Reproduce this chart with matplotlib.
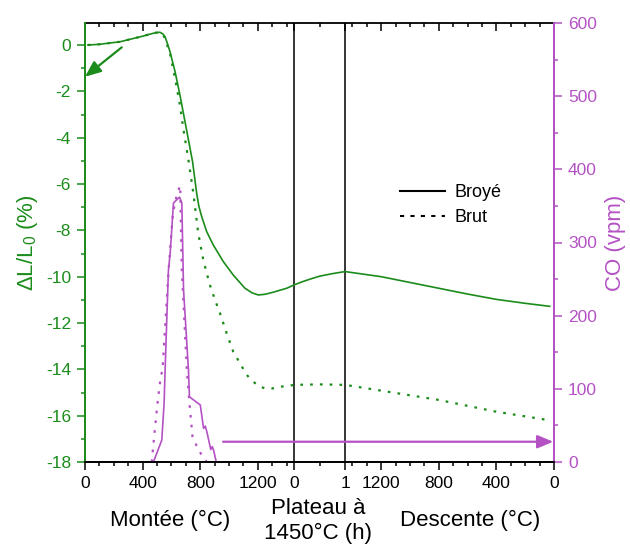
import numpy as np
import matplotlib
matplotlib.use("Agg")
import matplotlib.pyplot as plt
from matplotlib.lines import Line2D

plt.rcParams['font.family'] = ['Liberation Sans', 'DejaVu Sans']
plt.rcParams['mathtext.fontset'] = 'custom'
plt.rcParams['mathtext.rm'] = 'Liberation Sans'
plt.rcParams['mathtext.default'] = 'regular'
plt.rcParams['axes.unicode_minus'] = False

GREEN = '#1b8c1b'
PURPLE = '#b452c4'

# ---------------- data ----------------
# Broyé (solid) dilatometry, %
broye_up_T = [20, 100, 243, 400, 451, 490, 520, 540, 555, 570, 590, 625, 659, 694, 729, 747,
              775, 790, 810, 845, 890, 960, 1029, 1110, 1160, 1203, 1250, 1307, 1400, 1450]
broye_up_dl = [0.0, 0.03, 0.14, 0.38, 0.47, 0.53, 0.55, 0.48, 0.36, 0.1, -0.29, -1.15, -2.16,
               -3.31, -4.46, -5.05, -6.4, -6.95, -7.41, -8.06, -8.63, -9.35, -9.93, -10.5,
               -10.7, -10.79, -10.76, -10.67, -10.5, -10.36]
broye_pl_h = [0, 0.15, 0.31, 0.5, 0.75, 1]
broye_pl_dl = [-10.36, -10.23, -10.11, -9.98, -9.87, -9.78]
broye_down_T = [1450, 1200, 1000, 800, 600, 400, 200, 30]
broye_down_dl = [-9.78, -10.0, -10.25, -10.5, -10.75, -10.98, -11.15, -11.28]

# Brut (dotted) dilatometry, %
brut_up_T = [20, 100, 243, 400, 451, 490, 520, 540, 555, 570, 590, 625, 659, 682, 717, 752,
             786, 821, 845, 867, 902, 937, 983, 1029, 1076, 1122, 1168, 1203, 1249, 1296,
             1353, 1411, 1450]
brut_up_dl = [0.0, 0.03, 0.14, 0.38, 0.47, 0.53, 0.55, 0.45, 0.3, 0.0, -0.36, -1.44, -2.59,
              -3.6, -4.93, -6.4, -8.13, -9.28, -9.85, -10.36, -11.0, -11.58, -12.44, -13.24,
              -13.74, -14.24, -14.53, -14.72, -14.82, -14.83, -14.75, -14.72, -14.67]
brut_pl_h = [0, 0.5, 1]
brut_pl_dl = [-14.67, -14.65, -14.67]
brut_down_T = [1450, 1200, 800, 400, 30]
brut_down_dl = [-14.67, -14.92, -15.32, -15.83, -16.2]

# CO emission (vpm) during heating
co_broye_T = [475, 533, 549, 556, 579, 591, 614, 656, 672, 684, 718, 725, 800, 823, 835,
              846, 873, 883, 893, 911]
co_broye = [0, 30, 80, 126, 262, 285, 354, 362, 354, 235, 126, 89, 78, 46, 49,
            41, 17, 21, 16, 0]
co_brut_T = [463, 480, 503, 526, 538, 580, 610, 637, 661, 665, 672, 707, 725, 746, 788, 835, 845]
co_brut = [0, 35, 80, 117, 126, 262, 340, 365, 378, 330, 262, 126, 80, 35, 16, 3, 0]

up_ticks = [0, 400, 800, 1200]
plateau_ticks = [0, 1]
down_ticks = [1200, 800, 400, 0]

# ---------------- composite x scale ----------------
TMAX = 1450
PLW = 355  # width of plateau hour in x units


def x_up(T):
    return np.asarray(T, float)


def x_pl(h):
    return TMAX + np.asarray(h, float) * PLW


def x_down(T):
    return TMAX + PLW + (TMAX - np.asarray(T, float))


XEND = float(x_down(0))

fig = plt.figure(figsize=(6.3, 5.45), dpi=100)
ax = fig.add_axes([85 / 630, 1 - 462 / 545, (554 - 85) / 630, (462 - 23) / 545])
ax2 = ax.twinx()

lw = 1.2
dot = (0, (1.2, 3.2))
ax.plot(np.concatenate([x_up(broye_up_T), x_pl(broye_pl_h), x_down(broye_down_T)]),
        broye_up_dl + broye_pl_dl + broye_down_dl, color=GREEN, lw=lw, ls='-')
ax.plot(np.concatenate([x_up(brut_up_T), x_pl(brut_pl_h), x_down(brut_down_T)]),
        brut_up_dl + brut_pl_dl + brut_down_dl, color=GREEN, lw=1.6, ls=dot)

ax2.plot(x_up(co_broye_T), co_broye, color=PURPLE, lw=lw)
ax2.plot(x_up(co_brut_T), co_brut, color=PURPLE, lw=1.6, ls=dot)

# plateau bounds
for xv in [x_pl(0), x_pl(1)]:
    ax.axvline(xv, color='black', lw=1.1, zorder=1)

ax.set_xlim(0, XEND)
ax.set_ylim(-18, 0.95)
ax2.set_ylim(0, 600)

major_x = list(x_up(up_ticks)) + list(x_pl(plateau_ticks)) + list(x_down(down_ticks))
major_lab = [str(t) for t in up_ticks] + [str(t) for t in plateau_ticks] + [str(t) for t in down_ticks]
minor_x = [x_up(t) for t in range(100, 1450, 100) if t % 400 != 0] + [x_pl(0.5)] + \
          [x_down(t) for t in range(1400, 0, -100) if t % 400 != 0]
ax.set_xticks(major_x)
ax.set_xticklabels(major_lab)
ax.set_xticks(minor_x, minor=True)
ax.tick_params(axis='x', which='major', direction='out', length=6, width=1.1, labelsize=12.5, pad=4)
ax.tick_params(axis='x', which='minor', direction='out', length=3, width=1.1)

sec = ax.secondary_xaxis('top')
sec.set_xticks(major_x)
sec.set_xticks(minor_x, minor=True)
sec.tick_params(axis='x', which='major', direction='in', length=6, width=1.1, labeltop=False)
sec.tick_params(axis='x', which='minor', direction='in', length=3, width=1.1)
sec.spines['top'].set_linewidth(1.3)

ax.set_yticks(np.arange(-18, 1, 2))
ax.set_yticks(np.arange(-17, 1, 2), minor=True)
ax.tick_params(axis='y', which='major', direction='out', length=6, width=1.1, colors=GREEN,
               labelsize=12.5, pad=4)
ax.tick_params(axis='y', which='minor', direction='out', length=3, width=1.1, colors=GREEN)

ax2.set_yticks(np.arange(0, 601, 100))
ax2.set_yticks(np.arange(50, 600, 100), minor=True)
ax2.tick_params(axis='y', which='major', direction='out', length=6, width=1.1, colors=PURPLE,
                labelsize=12.5, pad=4)
ax2.tick_params(axis='y', which='minor', direction='out', length=3, width=1.1, colors=PURPLE)

for a in (ax, ax2):
    a.spines['left'].set_color(GREEN)
    a.spines['right'].set_color(PURPLE)
    for s in a.spines.values():
        s.set_linewidth(1.3)
ax.spines['top'].set_visible(False)
ax2.spines['top'].set_visible(False)

ax.set_ylabel(r'ΔL/L$_0$ (%)', color=GREEN, fontsize=16, labelpad=4)
ax2.set_ylabel('CO (vpm)', color=PURPLE, fontsize=16, labelpad=6)

# arrows
ax.annotate('', xy=(0, -1.37), xytext=(255, -0.1),
            arrowprops=dict(arrowstyle='-|>,head_length=0.6,head_width=0.25', color=GREEN,
                            lw=1.6, mutation_scale=16, shrinkA=0, shrinkB=0))
ax2.annotate('', xy=(XEND - 5, 27.7), xytext=(958, 27.7),
             arrowprops=dict(arrowstyle='-|>,head_length=0.6,head_width=0.25', color=PURPLE,
                             lw=1.6, mutation_scale=16, shrinkA=0, shrinkB=0))

# legend
handles = [Line2D([], [], color='black', lw=1.5, ls='-'),
           Line2D([], [], color='black', lw=1.5, ls=(0, (2, 3)))]
leg = ax.legend(handles, ['Broyé', 'Brut'], loc='upper left', frameon=False, fontsize=13,
                handlelength=2.5, handletextpad=0.5, labelspacing=0.45,
                bbox_to_anchor=(384 / 630, 1 - 168 / 545), bbox_transform=fig.transFigure)

# composite x labels
fig.text(170 / 630, 1 - 520 / 545, 'Montée (°C)', ha='center', va='center', fontsize=16)
fig.text(318 / 630, 1 - 521 / 545, 'Plateau à\n1450°C (h)', ha='center', va='center',
         fontsize=16, linespacing=1.2)
fig.text(470 / 630, 1 - 520 / 545, 'Descente (°C)', ha='center', va='center', fontsize=16)

fig.savefig('out.png', dpi=100)
